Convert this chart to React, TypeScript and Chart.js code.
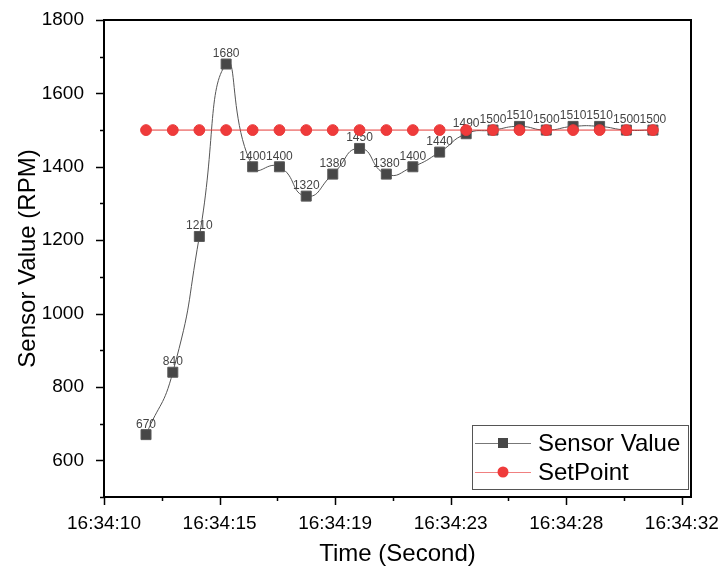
import React, { useEffect, useRef } from "react";
import { Chart, registerables } from "chart.js";

Chart.register(...registerables);

// ---- data ----
const sampleSeconds = [
  12.3, 13.32, 14.33, 15.35, 16.36, 17.38, 18.4, 19.41, 20.43, 21.45,
  22.46, 23.48, 24.49, 25.51, 26.52, 27.54, 28.56, 29.57, 30.59, 31.6,
];
const sensorValues = [
  670, 840, 1210, 1680, 1400, 1400, 1320, 1380, 1450, 1380,
  1400, 1440, 1490, 1500, 1510, 1500, 1510, 1510, 1500, 1500,
];
const setPointValues = [
  1500, 1500, 1500, 1500, 1500, 1500, 1500, 1500, 1500, 1500,
  1500, 1500, 1500, 1500, 1500, 1500, 1500, 1500, 1500, 1500,
];
const xTickSeconds = [10.7, 15.1, 19.5, 23.9, 28.3, 32.7];
const xTickLabels = ["16:34:10", "16:34:15", "16:34:19", "16:34:23", "16:34:28", "16:34:32"];
const xMinorSeconds = [12.9, 17.3, 21.7, 26.1, 30.5];
const xMin = 10.7;
const xMax = 33.05;
const yTicks = [600, 800, 1000, 1200, 1400, 1600, 1800];
const yMinorTicks = [500, 700, 900, 1100, 1300, 1500, 1700];
const yMin = 500;
const yMax = 1800;
const seriesNames = ["Sensor Value", "SetPoint"];
const xTitle = "Time (Second)";
const yTitle = "Sensor Value (RPM)";

const FONT = "'Liberation Sans', Arial, sans-serif";

const framePlugin = {
  id: "frameTicksLegend",
  afterDatasetDraw(chart: any, args: any) {
    if (args.index !== 0) return;
    const ctx = chart.ctx;
    const meta = chart.getDatasetMeta(0);
    ctx.save();
    ctx.fillStyle = "#444";
    ctx.font = `12px ${FONT}`;
    ctx.textAlign = "center";
    ctx.textBaseline = "alphabetic";
    meta.data.forEach((pt: any, i: number) => {
      ctx.fillText(String(sensorValues[i]), pt.x, pt.y - 7);
    });
    ctx.restore();
  },
  afterDraw(chart: any) {
    const ctx = chart.ctx;
    const { left, right, top, bottom } = chart.chartArea;
    const xs = chart.scales.x;
    const ys = chart.scales.y;
    ctx.save();
    ctx.strokeStyle = "#000";
    ctx.lineWidth = 2;
    // frame top & right
    ctx.beginPath();
    ctx.moveTo(left, top);
    ctx.lineTo(right, top);
    ctx.lineTo(right, bottom);
    ctx.stroke();
    // ticks
    ctx.lineWidth = 1.5;
    ctx.beginPath();
    xTickSeconds.forEach((v) => {
      const px = Math.round(xs.getPixelForValue(v)) + 0.5;
      ctx.moveTo(px, bottom);
      ctx.lineTo(px, bottom + 8);
    });
    xMinorSeconds.forEach((v) => {
      const px = Math.round(xs.getPixelForValue(v)) + 0.5;
      ctx.moveTo(px, bottom);
      ctx.lineTo(px, bottom + 4);
    });
    yTicks.forEach((v) => {
      const py = Math.round(ys.getPixelForValue(v)) + 0.5;
      ctx.moveTo(left, py);
      ctx.lineTo(left - 8, py);
    });
    yMinorTicks.forEach((v) => {
      const py = Math.round(ys.getPixelForValue(v)) + 0.5;
      ctx.moveTo(left, py);
      ctx.lineTo(left - 4, py);
    });
    ctx.stroke();

    // legend
    const lx = right - 219;
    const ly = bottom - 72;
    const lw = 216;
    const lh = 64;
    ctx.fillStyle = "#fff";
    ctx.fillRect(lx, ly, lw, lh);
    ctx.strokeStyle = "#555";
    ctx.lineWidth = 1;
    ctx.strokeRect(lx + 0.5, ly + 0.5, lw, lh);
    const rows = [
      { y: ly + 18, ds: chart.data.datasets[0] },
      { y: ly + 47, ds: chart.data.datasets[1] },
    ];
    rows.forEach((r, i) => {
      ctx.strokeStyle = i === 0 ? "#777" : "#f08080";
      ctx.lineWidth = 1;
      ctx.beginPath();
      ctx.moveTo(lx + 3, r.y + 0.5);
      ctx.lineTo(lx + 59, r.y + 0.5);
      ctx.stroke();
      ctx.fillStyle = r.ds.pointBackgroundColor;
      if (i === 0) {
        ctx.fillRect(lx + 26, r.y - 5, 10, 10);
      } else {
        ctx.beginPath();
        ctx.arc(lx + 31, r.y, 5.5, 0, Math.PI * 2);
        ctx.fill();
      }
      ctx.fillStyle = "#000";
      ctx.font = `24px ${FONT}`;
      ctx.textAlign = "left";
      ctx.textBaseline = "middle";
      ctx.fillText(seriesNames[i], lx + 66, r.y + 1);
    });
    ctx.restore();
  },
};

export default function App() {
  const ref = useRef<HTMLCanvasElement>(null);
  useEffect(() => {
    if (!ref.current) return;
    const chart = new Chart(ref.current, {
      type: "line",
      data: {
        datasets: [
          {
            label: seriesNames[0],
            data: sampleSeconds.map((x, i) => ({ x, y: sensorValues[i] })),
            borderColor: "#555",
            borderWidth: 1,
            tension: 0.55,
            pointStyle: "rect",
            pointRadius: 7.07,
            pointBackgroundColor: "#474747",
            pointBorderColor: "#5a5a5a",
            pointBorderWidth: 1,
            order: 1,
          },
          {
            label: seriesNames[1],
            data: sampleSeconds.map((x, i) => ({ x, y: setPointValues[i] })),
            borderColor: "#e53935",
            borderWidth: 1,
            tension: 0,
            pointStyle: "circle",
            pointRadius: 5.4,
            pointBackgroundColor: "#ef3b3b",
            pointBorderColor: "#e83838",
            pointBorderWidth: 1,
            order: 0,
          },
        ] as any,
      },
      options: {
        animation: false,
        responsive: false,
        layout: { padding: { top: 20, right: 30, left: 0, bottom: 0 } },
        plugins: { legend: { display: false }, tooltip: { enabled: false } },
        scales: {
          x: {
            type: "linear",
            min: xMin,
            max: xMax,
            afterBuildTicks: (s: any) => {
              s.ticks = xTickSeconds.map((v) => ({ value: v }));
            },
            afterFit: (s: any) => {
              s.height = 72;
              s.paddingLeft = 0;
              s.paddingRight = 0;
            },
            grid: { display: false, drawTicks: true, tickLength: 8 },
            border: { display: true, color: "#000", width: 2 },
            ticks: {
              autoSkip: false,
              maxRotation: 0,
              padding: 7,
              color: "#000",
              font: { family: FONT, size: 19 },
              callback: (v: any) => {
                const i = xTickSeconds.findIndex((t) => Math.abs(t - v) < 1e-6);
                return i >= 0 ? xTickLabels[i] : "";
              },
            },
            title: {
              display: true,
              text: xTitle,
              color: "#000",
              font: { family: FONT, size: 24 },
              padding: { top: 0, bottom: 0 },
            },
          },
          y: {
            type: "linear",
            min: yMin,
            max: yMax,
            afterBuildTicks: (s: any) => {
              s.ticks = yTicks.map((v) => ({ value: v }));
            },
            afterFit: (s: any) => {
              s.width = 104;
              s.paddingTop = 0;
              s.paddingBottom = 0;
            },
            grid: { display: false, drawTicks: true, tickLength: 8 },
            border: { display: true, color: "#000", width: 2 },
            ticks: {
              padding: 12,
              color: "#000",
              font: { family: FONT, size: 19 },
              callback: (v: any) => String(v),
            },
            title: {
              display: true,
              text: yTitle,
              color: "#000",
              font: { family: FONT, size: 24 },
              padding: { top: 14, bottom: 0 },
            },
          },
        },
      } as any,
      plugins: [framePlugin],
    });
    return () => chart.destroy();
  }, []);
  return (
    <div style={{ position: "fixed", left: 0, top: 0, width: 721, height: 569, background: "#fff" }}>
      <canvas ref={ref} width={721} height={569} style={{ display: "block" }} />
    </div>
  );
}
